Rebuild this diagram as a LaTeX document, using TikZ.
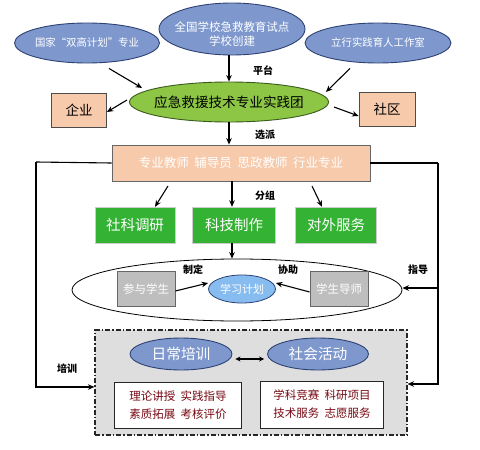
\documentclass[tikz,border=0pt]{standalone}
\usepackage{fontspec}
\setmainfont{Noto Sans CJK SC}
\usetikzlibrary{arrows.meta,shapes.geometric,calc}
\definecolor{eblue}{RGB}{126,152,206}
\definecolor{eblueb}{RGB}{45,65,115}
\definecolor{egreen}{RGB}{140,198,68}
\definecolor{egreenb}{RGB}{60,90,30}
\definecolor{peach}{RGB}{247,202,172}
\definecolor{gbox}{RGB}{52,178,52}
\definecolor{graybox}{RGB}{190,190,190}
\definecolor{lblue}{RGB}{135,188,240}
\definecolor{dashfill}{RGB}{222,222,222}
\definecolor{dred}{RGB}{120,10,20}
\newcommand{\gapsp}{\hspace{0.45em}}
\tikzset{
  bell/.style={ellipse,draw=eblueb,fill=eblue,line width=0.9pt,inner sep=0pt},
  etext/.style={text=white,align=center,inner sep=0pt,font=\fontsize{10.4}{14}\selectfont},
  pbox/.style={draw=black!70,fill=peach,line width=0.8pt,inner sep=0pt,font=\fontsize{13.5}{16}\selectfont},
  gb/.style={draw=white!80!black,fill=gbox,text=white,inner sep=0pt,font=\fontsize{14.5}{16}\selectfont},
  grb/.style={draw=black!60,fill=graybox,text=white,inner sep=0pt,line width=0.8pt,font=\fontsize{11.5}{13}\selectfont},
  tb/.style={draw=black!85,fill=white,line width=0.9pt,inner sep=0pt,align=center,text=dred,font=\fontsize{11.5}{18}\selectfont},
  lab/.style={font=\bfseries\fontsize{10}{11}\selectfont},
  arr/.style={-{Stealth[length=6.5pt,width=5.5pt]},line width=1.1pt},
  ln/.style={line width=1.1pt}
}
\begin{document}
\begin{tikzpicture}[x=1pt,y=-1pt]
\useasboundingbox (0,0) rectangle (480,450);
% top ellipses
\node[bell,minimum width=145,minimum height=40] (e1) at (87,43) {};
\node[etext] (e1t) at (e1) {国家“双高计划”专业};
\node[bell,minimum width=146,minimum height=52] (e2) at (232,29) {};
\node[etext,font=\fontsize{11.5}{14}\selectfont] (e2t) at (232,34) {全国学校急救教育试点\\学校创建};
\node[bell,minimum width=146,minimum height=40] (e3) at (378,43) {};
\node[etext] (e3t) at (e3) {立行实践育人工作室};
% green ellipse
\node[ellipse,draw=egreenb,fill=egreen,line width=0.9pt,minimum width=199,minimum height=40,inner sep=0pt] (g) at (229,102) {};
\node[inner sep=0pt,font=\fontsize{13.6}{15}\selectfont] (gt) at (g) {应急救援技术专业实践团};
\node[pbox,minimum width=55,minimum height=34] (qy) at (79,110) {企业};
\node[pbox,minimum width=56,minimum height=34] (sq) at (387,109) {社区};
% wide box
\node[draw=black!60,fill=peach,line width=0.8pt,minimum width=258,minimum height=36,inner sep=0pt,text=white,font=\fontsize{12.5}{14}\selectfont] (wb) at (241,163) {专业教师\gapsp 辅导员\gapsp 思政教师\gapsp 行业专业};
% green boxes
\node[gb,minimum width=80,minimum height=36] (s1) at (135,225) {社科调研};
\node[gb,minimum width=83,minimum height=36] (s2) at (234,225) {科技制作};
\node[gb,minimum width=81,minimum height=36] (s3) at (336,225) {对外服务};
% big ellipse
\node[ellipse,draw=black,fill=white,line width=0.8pt,minimum width=330,minimum height=62,inner sep=0pt] (be) at (237,290) {};
\node[grb,minimum width=58,minimum height=35] (cy) at (146,289) {参与学生};
\node[ellipse,draw=eblueb,fill=lblue,line width=0.8pt,minimum width=67,minimum height=28,inner sep=0pt] (jh) at (242,289) {};
\node[etext,font=\fontsize{11}{12}\selectfont] (jht) at (jh) {学习计划};
\node[grb,minimum width=58,minimum height=35] (ds) at (339,289) {学生导师};
% dash box
\node[draw=black!85,fill=dashfill,line width=1.1pt,dash pattern=on 5pt off 2pt on 1.5pt off 2pt,minimum width=312,minimum height=105,inner sep=0pt] (db) at (251,382.5) {};
\node[bell,minimum width=102,minimum height=32] (rc) at (181,354) {};
\node[etext,font=\fontsize{14.7}{16}\selectfont] (rct) at (rc) {日常培训};
\node[bell,minimum width=101,minimum height=32] (sh) at (318,354) {};
\node[etext,font=\fontsize{14.7}{16}\selectfont] (sht) at (sh) {社会活动};
\node[tb,minimum width=127,minimum height=46] (t1) at (178,405) {理论讲授\gapsp 实践指导\\素质拓展\gapsp 考核评价};
\node[tb,minimum width=123,minimum height=47] (t2) at (322,404.5) {学科竞赛\gapsp 科研项目\\技术服务\gapsp 志愿服务};
% labels
\node[lab] (l1) at (263,71) {平台};
\node[lab] (l2) at (265,135) {选派};
\node[lab] (l3) at (265,196) {分组};
\node[lab] (l4) at (193,270) {制定};
\node[lab] (l5) at (288,270) {协助};
\node[lab] (l6) at (418,270) {指导};
\node[lab] (l7) at (67,369) {培训};
% coordinates
\coordinate (a1) at (36,162);
\coordinate (a2) at (36,387);
\coordinate (b1) at (438,163);
\coordinate (b2) at (438,384);
\coordinate (c1) at (438,288);
% arrows
\draw[arr] ($(e1.south)+(22,5)$) -- ($(g.west)+(13,-14)$);
\draw[arr] (e2.south -| 229,0) -- (g.north -| 229,0);
\draw[arr] ($(e3.south)+(-28,5)$) -- ($(g.east)+(-3,-10)$);
\draw[arr] (127,100) -- (qy.east |- 0,112);
\draw[arr] (334,107) -- (sq.west |- 0,116);
\draw[arr] (g.south -| 229,0) -- (wb.north -| 229,0);
\draw[arr] (168,186) -- (s1.north -| 155,0);
\draw[arr] (wb.south -| 232,0) -- (s2.north -| 232,0);
\draw[arr] (312,186) -- (s3.north -| 322,0);
\draw[arr] (s2.south -| 232,0) -- (be.north -| 232,0);
\draw[arr] (cy.east |- 0,291) -- (jh.west |- 0,283);
\draw[arr] (ds.west |- 0,292) -- (jh.east |- 0,283);
\draw[ln] (wb.west) -- (a1);
\draw[arr] (a1) -- (a2) -- (db.west |- a2);
\draw[ln] (wb.east) -- (b1);
\draw[arr] (b1) -- (b2) -- (db.east |- b2);
\draw[arr] (c1) -- (be.east |- c1);
\draw[{Stealth[length=5pt,width=5pt]}-{Stealth[length=5pt,width=5pt]},line width=1.1pt] ($(rc.east |- 0,359)+(3,0)$) -- ($(sh.west |- 0,359)+(-3,0)$);
\end{tikzpicture}
\end{document}
